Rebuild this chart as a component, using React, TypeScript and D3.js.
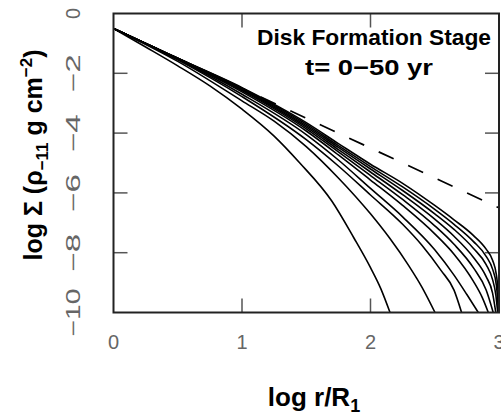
import React from "react";
import * as d3 from "d3";

// ---- data ----
const X_TICKS = [0, 1, 2, 3];
const X_TICK_LABELS = ["0", "1", "2", "3"];
const Y_TICKS = [0, -2, -4, -6, -8, -10];
const Y_TICK_LABELS = ["0", "−2", "−4", "−6", "−8", "−10"];

// dashed reference line (initial profile)
const dashedLine: [number, number][] = [
  [0, -0.5],
  [3, -6.5],
];

// solid profiles, t = 0–50 yr
const profile1: [number, number][] = [
  [0, -0.5], [0.25, -1.12], [0.5, -1.75], [0.75, -2.42], [1.0, -3.2], [1.25, -4.1],
  [1.45, -5.0], [1.7, -6.28], [1.87, -7.5], [2.0, -8.5], [2.08, -9.2], [2.152, -10],
];
const profile2: [number, number][] = [
  [0, -0.5], [0.5, -1.6], [1.0, -2.92], [1.25, -3.6], [1.5, -4.45], [1.75, -5.5],
  [2.0, -6.7], [2.15, -7.52], [2.3, -8.45], [2.4, -9.15], [2.502, -10],
];
const profile3: [number, number][] = [
  [0, -0.5], [0.5, -1.55], [1.0, -2.78], [1.5, -4.22], [1.75, -5.1], [2.0, -6.07],
  [2.25, -7.05], [2.4, -7.75], [2.55, -8.6], [2.65, -9.25], [2.709, -10],
];
const profile4: [number, number][] = [
  [0, -0.5], [0.5, -1.53], [1.0, -2.7], [1.5, -4.05], [1.75, -4.9], [2.0, -5.85],
  [2.25, -6.8], [2.5, -7.9], [2.65, -8.75], [2.75, -9.4], [2.839, -10],
];
const profile5: [number, number][] = [
  [0, -0.5], [0.5, -1.52], [1.0, -2.62], [1.5, -3.93], [1.75, -4.73], [2.0, -5.57],
  [2.25, -6.42], [2.5, -7.37], [2.65, -8.05], [2.8, -8.95], [2.87, -9.5], [2.917, -10],
];
const profile6: [number, number][] = [
  [0, -0.5], [0.5, -1.51], [1.0, -2.58], [1.5, -3.86], [1.75, -4.63], [2.0, -5.42],
  [2.25, -6.22], [2.5, -7.1], [2.65, -7.72], [2.8, -8.5], [2.9, -9.25], [2.955, -10],
];
const profile7: [number, number][] = [
  [0, -0.5], [0.5, -1.51], [1.0, -2.55], [1.5, -3.8], [1.75, -4.55], [2.0, -5.3],
  [2.25, -6.06], [2.5, -6.88], [2.65, -7.45], [2.8, -8.15], [2.9, -8.8], [2.95, -9.35], [2.975, -10],
];
const profile8: [number, number][] = [
  [0, -0.5], [0.5, -1.5], [1.0, -2.52], [1.5, -3.75], [1.75, -4.48], [2.0, -5.2],
  [2.25, -5.92], [2.5, -6.7], [2.65, -7.22], [2.8, -7.85], [2.9, -8.4], [2.95, -8.9], [2.975, -9.4], [2.99, -10],
];
const profile9: [number, number][] = [
  [0, -0.5], [0.5, -1.5], [1.0, -2.5], [1.5, -3.7], [1.75, -4.42], [2.0, -5.12],
  [2.25, -5.8], [2.5, -6.55], [2.65, -7.05], [2.8, -7.62], [2.9, -8.12], [2.95, -8.55], [2.98, -9.1], [2.997, -10],
];
const profile10: [number, number][] = [
  [0, -0.5], [0.5, -1.5], [1.0, -2.48], [1.5, -3.65], [1.75, -4.35], [2.0, -5.04],
  [2.25, -5.68], [2.5, -6.42], [2.65, -6.9], [2.8, -7.42], [2.9, -7.88], [2.95, -8.25], [2.98, -8.75], [2.993, -9.3], [3.0, -10],
];

const PROFILES = [profile1, profile2, profile3, profile4, profile5, profile6, profile7, profile8, profile9, profile10];

const TITLE_1 = "Disk Formation Stage";
const TITLE_2 = "t= 0−50 yr";

// ---- layout ----
const W = 501;
const H = 417;
const LEFT = 113.5;
const RIGHT = 499;
const TOP = 13.5;
const BOTTOM = 312.5;

export default function App() {
  const x = d3.scaleLinear().domain([0, 3]).range([LEFT, RIGHT]);
  const y = d3.scaleLinear().domain([0, -10]).range([TOP, BOTTOM]);
  const line = d3
    .line<[number, number]>()
    .x((d) => x(d[0]))
    .y((d) => y(d[1]))
    .curve(d3.curveMonotoneX);
  const straight = d3
    .line<[number, number]>()
    .x((d) => x(d[0]))
    .y((d) => y(d[1]));

  const tickLen = 14;
  const tickColor = "#555";
  const labelFont = "'Liberation Sans', Arial, sans-serif";

  const yLabelLen = (s: string) => (s.length === 1 ? undefined : s.length === 2 ? 38 : 48);

  return (
    <svg
      width={W}
      height={H}
      style={{ position: "absolute", left: 0, top: 0, background: "#fff" }}
      fontFamily={labelFont}
    >
      <defs>
        <clipPath id="plotclip">
          <rect x={LEFT} y={TOP} width={RIGHT - LEFT} height={BOTTOM - TOP} />
        </clipPath>
      </defs>

      {/* ticks */}
      {X_TICKS.slice(1, -1).map((t) => (
        <g key={"xt" + t} stroke={tickColor} strokeWidth={1.5}>
          <line x1={x(t)} x2={x(t)} y1={BOTTOM} y2={BOTTOM - tickLen} />
          <line x1={x(t)} x2={x(t)} y1={TOP} y2={TOP + tickLen} />
        </g>
      ))}
      {Y_TICKS.slice(1, -1).map((t) => (
        <g key={"yt" + t} stroke={tickColor} strokeWidth={1.5}>
          <line x1={LEFT} x2={LEFT + tickLen} y1={y(t)} y2={y(t)} />
          <line x1={RIGHT} x2={RIGHT - tickLen} y1={y(t)} y2={y(t)} />
        </g>
      ))}

      {/* curves */}
      <g clipPath="url(#plotclip)" fill="none" stroke="#000">
        <path d={straight(dashedLine) || ""} strokeWidth={1.7} strokeDasharray="16.5,16" />
        {PROFILES.map((p, i) => (
          <path key={i} d={line(p) || ""} strokeWidth={1.6} />
        ))}
      </g>

      {/* frame */}
      <rect
        x={LEFT}
        y={TOP}
        width={RIGHT - LEFT}
        height={BOTTOM - TOP}
        fill="none"
        stroke="#222"
        strokeWidth={2}
      />

      {/* x tick labels */}
      {X_TICKS.map((t, i) => (
        <text
          key={"xl" + t}
          x={x(t)}
          y={349}
          textAnchor="middle"
          fontSize={20}
          fill="#666"
        >
          {X_TICK_LABELS[i]}
        </text>
      ))}

      {/* y tick labels (rotated, reading upward) */}
      {Y_TICKS.map((t, i) => (
        <g key={"yl" + t} transform={`translate(80,${y(t)}) rotate(-90)`}>
          <text
            x={0}
            y={0}
            textAnchor="middle"
            fontSize={20}
            fill="#666"
            textLength={yLabelLen(Y_TICK_LABELS[i])}
            lengthAdjust="spacingAndGlyphs"
          >
            {Y_TICK_LABELS[i]}
          </text>
        </g>
      ))}

      {/* titles in plot */}
      <text x={374} y={45} textAnchor="middle" fontSize={22} fontWeight="bold" textLength={234} lengthAdjust="spacingAndGlyphs">
        {TITLE_1}
      </text>
      <text x={369} y={75} textAnchor="middle" fontSize={22} fontWeight="bold" textLength={128} lengthAdjust="spacingAndGlyphs">
        {TITLE_2}
      </text>

      {/* x axis title */}
      <text x={314} y={406} textAnchor="middle" fontSize={26} fontWeight="bold">
        log r/R
        <tspan fontSize={18} dy={6}>1</tspan>
      </text>

      {/* y axis title */}
      <g transform={`translate(42,155) rotate(-90)`}>
        <text x={0} y={0} textAnchor="middle" fontSize={25} fontWeight="bold">
          log Σ (ρ
          <tspan fontSize={17} dy={6}>−11</tspan>
          <tspan dy={-6}> g cm</tspan>
          <tspan fontSize={17} dy={-10}>−2</tspan>
          <tspan dy={10}>)</tspan>
        </text>
      </g>
    </svg>
  );
}
